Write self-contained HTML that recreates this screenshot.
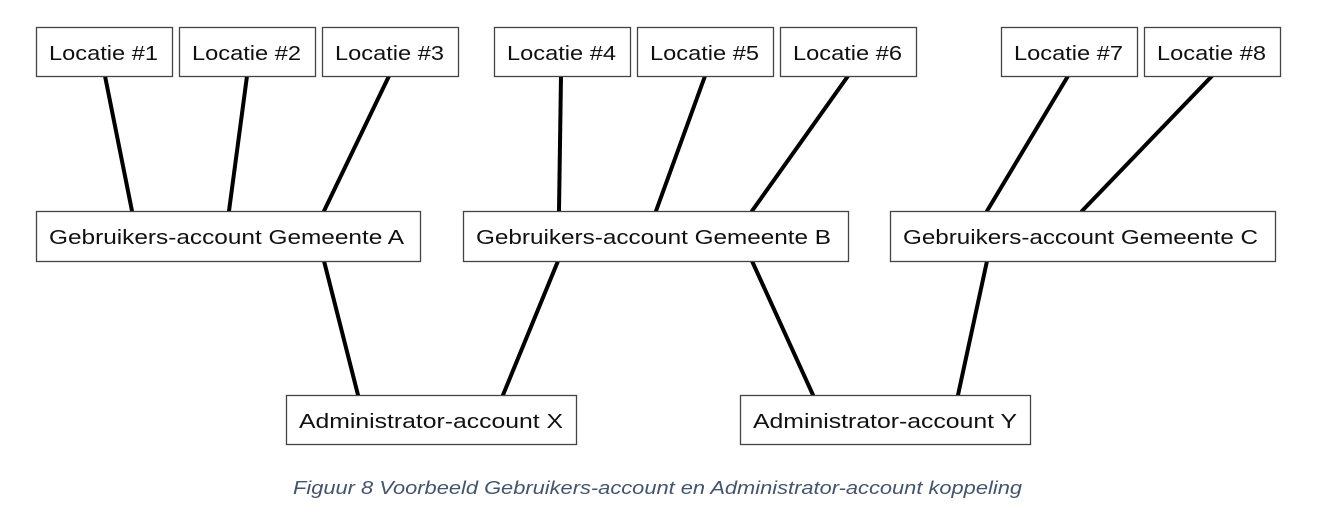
<!DOCTYPE html>
<html><head><meta charset="utf-8"><style>
body{margin:0;width:1344px;height:518px;background:#fff;overflow:hidden}
svg{position:absolute;left:0;top:0}
text{font-family:"Liberation Sans",sans-serif;font-size:20px;fill:#111}
</style></head><body>
<svg width="1344" height="518" viewBox="0 0 1344 518">
<g stroke="#000" stroke-width="4" stroke-linecap="round">
<line x1="105" y1="76" x2="132" y2="211"/>
<line x1="247" y1="76" x2="229" y2="211"/>
<line x1="389" y1="76" x2="324" y2="211"/>
<line x1="561" y1="76" x2="559" y2="211"/>
<line x1="705" y1="76" x2="656" y2="211"/>
<line x1="848" y1="76" x2="752" y2="211"/>
<line x1="1068" y1="76" x2="987" y2="211"/>
<line x1="1212" y1="76" x2="1082" y2="211"/>
<line x1="324" y1="261" x2="358" y2="395"/>
<line x1="558" y1="261" x2="503" y2="395"/>
<line x1="752" y1="261" x2="813" y2="395"/>
<line x1="987" y1="261" x2="958" y2="395"/>
</g>
<g fill="#fff" stroke="#444" stroke-width="1.3">
<rect x="36.5" y="27.5" width="136" height="49"/>
<rect x="179.5" y="27.5" width="136" height="49"/>
<rect x="322.5" y="27.5" width="136" height="49"/>
<rect x="494.5" y="27.5" width="136" height="49"/>
<rect x="637.5" y="27.5" width="136" height="49"/>
<rect x="780.5" y="27.5" width="136" height="49"/>
<rect x="1001.5" y="27.5" width="136" height="49"/>
<rect x="1144.5" y="27.5" width="136" height="49"/>
<rect x="36.5" y="211.5" width="384" height="50"/>
<rect x="463.5" y="211.5" width="385" height="50"/>
<rect x="890.5" y="211.5" width="385" height="50"/>
<rect x="286.5" y="395.5" width="290" height="49"/>
<rect x="740.5" y="395.5" width="290" height="49"/>
</g>
<g lengthAdjust="spacingAndGlyphs">
<text x="49" y="60" textLength="109" lengthAdjust="spacingAndGlyphs">Locatie #1</text>
<text x="192" y="60" textLength="109" lengthAdjust="spacingAndGlyphs">Locatie #2</text>
<text x="335" y="60" textLength="109" lengthAdjust="spacingAndGlyphs">Locatie #3</text>
<text x="507" y="60" textLength="109" lengthAdjust="spacingAndGlyphs">Locatie #4</text>
<text x="650" y="60" textLength="109" lengthAdjust="spacingAndGlyphs">Locatie #5</text>
<text x="793" y="60" textLength="109" lengthAdjust="spacingAndGlyphs">Locatie #6</text>
<text x="1014" y="60" textLength="109" lengthAdjust="spacingAndGlyphs">Locatie #7</text>
<text x="1157" y="60" textLength="109" lengthAdjust="spacingAndGlyphs">Locatie #8</text>
<text x="49" y="244" textLength="355" lengthAdjust="spacingAndGlyphs">Gebruikers-account Gemeente A</text>
<text x="476" y="244" textLength="355" lengthAdjust="spacingAndGlyphs">Gebruikers-account Gemeente B</text>
<text x="903" y="244" textLength="355" lengthAdjust="spacingAndGlyphs">Gebruikers-account Gemeente C</text>
<text x="299" y="428" textLength="264" lengthAdjust="spacingAndGlyphs">Administrator-account X</text>
<text x="753" y="428" textLength="264" lengthAdjust="spacingAndGlyphs">Administrator-account Y</text>
<text x="293" y="494" textLength="729" lengthAdjust="spacingAndGlyphs" style="font-size:18px;font-style:italic;fill:#44546a">Figuur 8 Voorbeeld Gebruikers-account en Administrator-account koppeling</text>
</g>
</svg>
</body></html>
